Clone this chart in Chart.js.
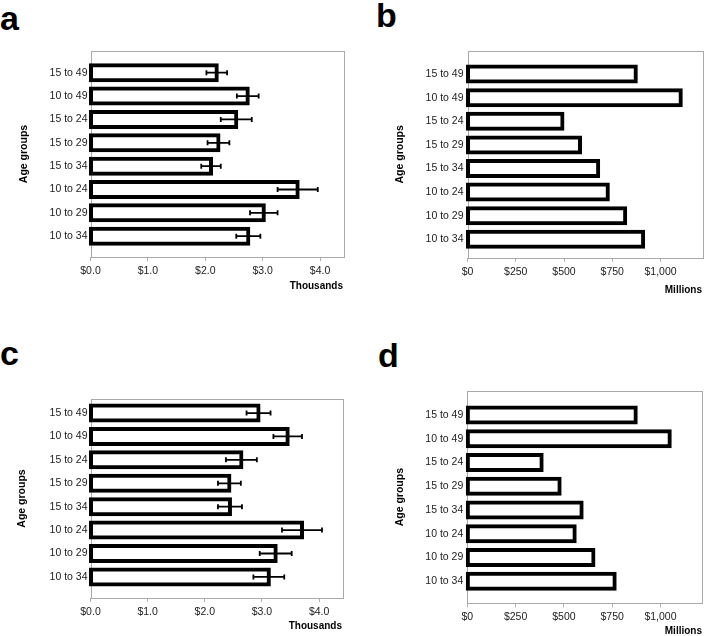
<!DOCTYPE html>
<html>
<head>
<meta charset="utf-8">
<script src="https://cdn.jsdelivr.net/npm/chart.js@4/dist/chart.umd.min.js"></script>
<style>
  body { margin: 0; background: #fff; width: 705px; height: 636px; position: relative; overflow: hidden; font-family: 'Liberation Sans', Arial, sans-serif; }
  canvas { position: absolute; }
  .tag { position: absolute; font-weight: bold; font-size: 34px; line-height: 34px; color: #000; }
</style>
</head>
<body>
<div class="tag" style="left:0px;top:1px">a</div>
<div class="tag" style="left:376px;top:-2px">b</div>
<div class="tag" style="left:0px;top:336px">c</div>
<div class="tag" style="left:378px;top:338px">d</div>
<canvas id="pa" width="352" height="300" style="left:0;top:0"></canvas>
<canvas id="pb" width="350" height="300" style="left:355px;top:0"></canvas>
<canvas id="pc" width="352" height="316" style="left:0;top:320px"></canvas>
<canvas id="pd" width="350" height="316" style="left:355px;top:320px"></canvas>
<script>
const ageGroups = ['15 to 49', '10 to 49', '15 to 24', '15 to 29', '15 to 34', '10 to 24', '10 to 29', '10 to 34']

// a and c: thousands of dollars, with error bars
const costA = [2.20, 2.74, 2.54, 2.23, 2.10, 3.61, 3.02, 2.75]
const errA = [0.18, 0.19, 0.27, 0.19, 0.17, 0.35, 0.24, 0.21]
const costC = [2.94, 3.45, 2.64, 2.43, 2.44, 3.70, 3.24, 3.12]
const errC = [0.21, 0.25, 0.27, 0.20, 0.21, 0.35, 0.28, 0.27]

// b and d: millions of dollars
const totalB = [872, 1105, 492, 583, 677, 727, 817, 910]
const totalD = [872, 1048, 385, 478, 592, 556, 653, 763]

const thousandTicks = [0, 1, 2, 3, 4]
const millionTicks = [0, 250, 500, 750, 1000]

const FONT = "'Liberation Sans', Arial, sans-serif"

const framePlugin = {
  id: 'frame',
  beforeDatasetsDraw: (chart) => {
    const { ctx, chartArea: a } = chart
    ctx.save()
    ctx.strokeStyle = '#aaaaaa'
    ctx.lineWidth = 1
    ctx.strokeRect(Math.round(a.left) + 0.5, Math.round(a.top) + 0.5, Math.round(a.right - a.left), Math.round(a.bottom - a.top))
    ctx.restore()
  }
}

const errorPlugin = {
  id: 'errbars',
  afterDatasetsDraw: (chart, args, opts) => {
    if (!opts.errors) return
    const { ctx } = chart
    const xs = chart.scales.x
    const meta = chart.getDatasetMeta(0)
    const values = chart.data.datasets[0].data
    ctx.save()
    ctx.strokeStyle = '#000'
    ctx.lineWidth = 1.8
    meta.data.forEach((bar, i) => {
      const v = values[i].x
      const e = opts.errors[i]
      const x1 = xs.getPixelForValue(v - e)
      const x2 = xs.getPixelForValue(v + e)
      const y = bar.y
      ctx.beginPath()
      ctx.moveTo(x1, y); ctx.lineTo(x2, y)
      ctx.moveTo(x1, y - 2.5); ctx.lineTo(x1, y + 2.5)
      ctx.moveTo(x2, y - 2.5); ctx.lineTo(x2, y + 2.5)
      ctx.stroke()
    })
    ctx.restore()
  }
}

const createPanel = (id, cfg) => {
  const { W, H, frame } = cfg
  const xTitleFont = { family: FONT, size: 10, weight: 'bold', lineHeight: 1.2 }
  const yTitleFont = { family: FONT, size: 10.5, weight: 'bold', lineHeight: 1.2 }
  return new Chart(document.getElementById(id), {
    type: 'bar',
    data: {
      datasets: [{
        data: cfg.values.map((v, i) => ({ x: v, y: i })),
        backgroundColor: '#ffffff',
        borderColor: '#000000',
        borderWidth: 4,
        borderSkipped: false,
        inflateAmount: 2,
        barThickness: 15,
        clip: false
      }]
    },
    options: {
      indexAxis: 'y',
      responsive: false,
      animation: false,
      layout: {
        padding: { left: 0, top: frame.t, right: W - frame.r, bottom: 0 }
      },
      plugins: {
        legend: { display: false },
        tooltip: { enabled: false },
        errbars: { errors: cfg.errors }
      },
      scales: {
        x: {
          type: 'linear',
          min: 0,
          max: cfg.xMax,
          afterBuildTicks: (s) => { s.ticks = cfg.ticks.map(v => ({ value: v })) },
          afterFit: (s) => { s.height = H - frame.b },
          ticks: {
            callback: cfg.fmt,
            font: { family: FONT, size: 10.5 },
            color: '#222',
            padding: 4,
            maxRotation: 0,
            autoSkip: false
          },
          grid: { display: true, drawOnChartArea: false, drawTicks: true, tickLength: 4, color: '#b0b0b0' },
          border: { display: false },
          title: {
            display: true,
            text: cfg.unit,
            align: 'end',
            color: '#000',
            font: xTitleFont,
            padding: { top: 0, bottom: H - cfg.unitY - 6 }
          }
        },
        y: {
          type: 'linear',
          reverse: true,
          offset: false,
          min: cfg.idxMin,
          max: cfg.idxMax,
          afterBuildTicks: (s) => { s.ticks = ageGroups.map((_, i) => ({ value: i })) },
          afterFit: (s) => { s.width = frame.l },
          ticks: {
            callback: (v) => ageGroups[v],
            font: { family: FONT, size: 10.5 },
            color: '#222',
            padding: cfg.tickPad,
            autoSkip: false
          },
          grid: { display: false, drawTicks: false, tickLength: 0, offset: false },
          border: { display: false },
          title: {
            display: true,
            text: 'Age groups',
            color: '#000',
            font: yTitleFont,
            padding: { top: cfg.yTitleX - 6.3, bottom: 0 }
          }
        }
      }
    },
    plugins: [framePlugin, errorPlugin]
  })
}

const fmtThousands = (v) => '$' + v.toFixed(1)
const fmtMillions = (v) => '$' + v.toLocaleString('en-US')

createPanel('pa', {
  W: 352, H: 300, frame: { l: 90.5, t: 51, r: 343, b: 257 },
  values: costA, errors: errA, xMax: 4.4, ticks: thousandTicks, fmt: fmtThousands,
  unit: 'Thousands', unitY: 286, yTitleX: 24, tickPad: 3, idxMin: -0.93, idxMax: 7.89
})
createPanel('pb', {
  W: 350, H: 300, frame: { l: 112.5, t: 51, r: 347, b: 257.7 },
  values: totalB, errors: null, xMax: 1215, ticks: millionTicks, fmt: fmtMillions,
  unit: 'Millions', unitY: 290, yTitleX: 45, tickPad: 4, idxMin: -0.98, idxMax: 7.78
})
createPanel('pc', {
  W: 352, H: 316, frame: { l: 90.5, t: 79, r: 342, b: 278 },
  values: costC, errors: errC, xMax: 4.4, ticks: thousandTicks, fmt: fmtThousands,
  unit: 'Thousands', unitY: 306.7, yTitleX: 21.7, tickPad: 3, idxMin: -0.6, idxMax: 7.9
})
createPanel('pd', {
  W: 350, H: 316, frame: { l: 112.3, t: 71, r: 347, b: 283.3 },
  values: totalD, errors: null, xMax: 1215, ticks: millionTicks, fmt: fmtMillions,
  unit: 'Millions', unitY: 311.7, yTitleX: 45, tickPad: 4, idxMin: -1.01, idxMax: 7.93
})
</script>
</body>
</html>
